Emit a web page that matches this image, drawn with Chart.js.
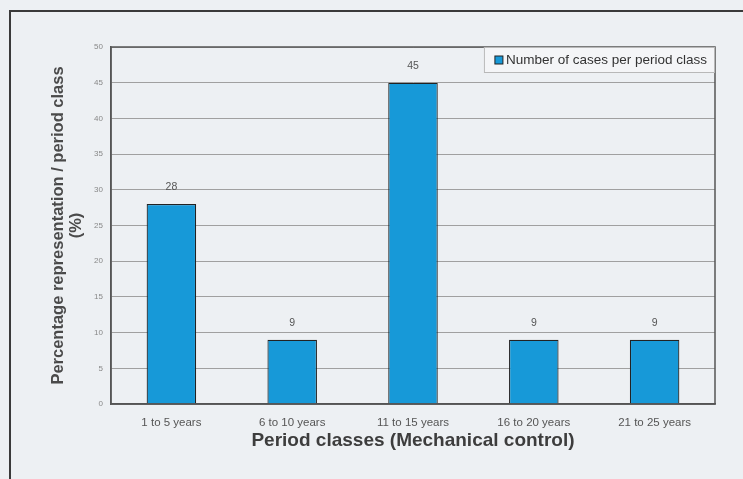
<!DOCTYPE html>
<html>
<head>
<meta charset="utf-8">
<script src="https://cdn.jsdelivr.net/npm/chart.js@4.4.0/dist/chart.umd.min.js"></script>
<style>
  html, body { margin: 0; padding: 0; background: #edf0f3; }
  #wrap { position: relative; width: 743px; height: 479px; overflow: hidden; }
  #frame { position: absolute; left: 9px; top: 10px; width: 760px; height: 500px;
           border-left: 2px solid #3a3a3a; border-top: 2px solid #3a3a3a; }
  canvas { position: absolute; left: 0; top: 0; }
</style>
</head>
<body>
<div id="wrap">
  <div id="frame"></div>
  <canvas id="chart" width="743" height="479"></canvas>
</div>
<script>
const periodLabels = ['1 to 5 years', '6 to 10 years', '11 to 15 years', '16 to 20 years', '21 to 25 years'];
const casePercent = [28, 9, 45, 9, 9];
const seriesName = 'Number of cases per period class';

const ctx = document.querySelector('#chart').getContext('2d');

// frame around the plot area plus the boxed legend in its top right corner
const plotBox = {
    id: 'plotBox',
    afterDraw: (chart) => {
        const c = chart.ctx;
        const a = chart.chartArea;
        c.save();
        c.strokeStyle = '#555';
        c.lineWidth = 1.5;
        c.strokeRect(a.left, a.top, a.right - a.left, a.bottom - a.top);

        c.font = '13.5px "Liberation Sans", Arial, sans-serif';
        const tw = c.measureText(seriesName).width;
        const w = tw + 30, h = 26;
        const x = a.right - w, y = a.top;
        c.fillStyle = '#f4f5f7';
        c.fillRect(x, y, w, h);
        c.strokeStyle = '#b8b8b8';
        c.lineWidth = 1;
        c.strokeRect(x + 0.5, y + 0.5, w - 1, h - 1);
        c.fillStyle = '#1799d8';
        c.fillRect(x + 11, y + 9, 8, 8);
        c.strokeStyle = '#222';
        c.strokeRect(x + 11, y + 9, 8, 8);
        c.fillStyle = '#333';
        c.textBaseline = 'middle';
        c.fillText(seriesName, x + 22, y + 13.5);
        c.restore();
    }
};

// values written above each bar
const barValues = {
    id: 'barValues',
    afterDatasetsDraw: (chart) => {
        const c = chart.ctx;
        const meta = chart.getDatasetMeta(0);
        c.save();
        c.font = '10.5px "Liberation Sans", Arial, sans-serif';
        c.fillStyle = '#555';
        c.textAlign = 'center';
        c.textBaseline = 'middle';
        meta.data.forEach((bar, i) => {
            c.fillText(String(casePercent[i]), bar.x, bar.y - 17);
        });
        c.restore();
    }
};

new Chart(ctx, {
    type: 'bar',
    data: {
        labels: periodLabels,
        datasets: [{
            label: seriesName,
            data: casePercent,
            backgroundColor: '#1799d8',
            borderColor: '#222',
            borderWidth: 1.2,
            barPercentage: 0.41,
            categoryPercentage: 1.0
        }]
    },
    options: {
        responsive: false,
        animation: false,
        layout: { padding: { left: 49, top: 47, right: 28, bottom: 20 } },
        plugins: {
            legend: { display: false },
            tooltip: { enabled: false }
        },
        scales: {
            x: {
                grid: { display: false, drawTicks: false },
                border: { color: '#555', width: 1.5 },
                ticks: {
                    padding: 12,
                    color: '#555',
                    font: { family: '"Liberation Sans", Arial, sans-serif', size: 11.5 }
                },
                title: {
                    display: true,
                    text: 'Period classes (Mechanical control)',
                    color: '#3d3d3d',
                    padding: { top: 0, bottom: 7 },
                    font: { family: '"Liberation Sans", Arial, sans-serif', size: 19, weight: 'bold', lineHeight: 1.2 }
                },
                afterFit: (scale) => { scale.height = 479 - 404 - 20; }
            },
            y: {
                min: 0,
                max: 50,
                grid: { color: '#a0a0a0', lineWidth: 1, drawTicks: false },
                border: { color: '#555', width: 1.5 },
                ticks: {
                    stepSize: 5,
                    padding: 8,
                    color: '#888',
                    font: { family: '"Liberation Sans", Arial, sans-serif', size: 8 }
                },
                title: {
                    display: true,
                    text: ['Percentage representation / period class', '(%)'],
                    color: '#4a4a4a',
                    padding: { top: 0, bottom: 0 },
                    font: { family: '"Liberation Sans", Arial, sans-serif', size: 16.5, weight: 'bold', lineHeight: 1.09 }
                },
                afterFit: (scale) => { scale.width = 111 - 49; }
            }
        }
    },
    plugins: [barValues, plotBox]
});
</script>
</body>
</html>
